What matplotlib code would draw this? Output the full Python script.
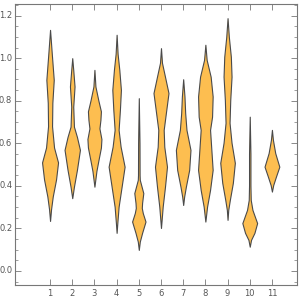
import numpy as np
import matplotlib
matplotlib.use("Agg")
import matplotlib.pyplot as plt

# Violin outlines: levels (y) and half widths (in x units)
# one list per category, from top to bottom of each violin
categories = [1, 2, 3, 4, 5, 6, 7, 8, 9, 10, 11]

levels = [
    [1.133, 1.023, 0.898, 0.79, 0.68, 0.58, 0.51, 0.43, 0.35, 0.29, 0.235],
    [1.0, 0.945, 0.867, 0.772, 0.678, 0.63, 0.569, 0.475, 0.396, 0.342],
    [0.945, 0.867, 0.80, 0.75, 0.71, 0.67, 0.62, 0.58, 0.52, 0.47, 0.396],
    [1.11, 1.02, 0.945, 0.851, 0.757, 0.663, 0.584, 0.49, 0.396, 0.302, 0.225, 0.179],
    [0.812, 0.60, 0.45, 0.428, 0.366, 0.32, 0.296, 0.272, 0.232, 0.179, 0.138, 0.099],
    [1.047, 0.978, 0.913, 0.836, 0.757, 0.663, 0.584, 0.49, 0.396, 0.302, 0.202],
    [0.901, 0.82, 0.742, 0.663, 0.569, 0.475, 0.396, 0.35, 0.31],
    [1.063, 0.992, 0.913, 0.82, 0.725, 0.663, 0.569, 0.475, 0.381, 0.302, 0.232],
    [1.188, 1.10, 1.007, 0.913, 0.804, 0.696, 0.602, 0.508, 0.414, 0.334, 0.287, 0.24],
    [0.725, 0.55, 0.40, 0.334, 0.287, 0.225, 0.179, 0.146, 0.114],
    [0.663, 0.616, 0.554, 0.49, 0.443, 0.404, 0.373],
]

half_px = [
    [0, 1.7, 3.7, 2.3, 2.0, 4.0, 8.0, 6.0, 2.7, 1.0, 0],
    [0, 1.0, 2.3, 1.0, 1.7, 4.7, 7.7, 4.7, 1.7, 0],
    [0, 1.0, 4.0, 6.5, 6.0, 5.0, 7.0, 6.5, 4.0, 2.0, 0],
    [0, 1.0, 2.7, 4.3, 3.3, 2.0, 4.0, 8.0, 5.0, 2.0, 0.7, 0],
    [0, 0.7, 0.8, 1.0, 4.5, 3.3, 3.0, 4.0, 6.7, 3.3, 1.0, 0],
    [0, 1.0, 4.0, 7.5, 5.3, 2.7, 3.3, 6.0, 4.0, 1.7, 0],
    [0, 1.3, 2.0, 3.3, 7.3, 6.0, 2.7, 1.0, 0],
    [0, 1.3, 5.3, 7.3, 6.7, 4.7, 6.0, 7.3, 4.7, 1.7, 0],
    [0, 1.3, 3.3, 4.0, 2.7, 2.0, 4.0, 7.3, 5.3, 2.3, 0.7, 0],
    [0, 0.7, 0.7, 1.0, 2.7, 7.4, 4.7, 1.3, 0],
    [0, 1.0, 3.3, 7.4, 4.0, 1.3, 0],
]

fill_color = "#FDBE50"
edge_color = "#4a4a4a"
frame_color = "#777777"

fig = plt.figure(figsize=(3, 3), dpi=100)
ax = fig.add_axes([0.05, 0.05, 0.94, 0.937])

for x, ys, hw in zip(categories, levels, half_px):
    ys = np.array(ys)
    w = np.array(hw) / 22.2
    ax.fill_betweenx(ys, x - w, x + w, facecolor=fill_color,
                     edgecolor=edge_color, linewidth=0.8)

ax.set_xlim(-0.58, 12.13)
ax.set_ylim(-0.066, 1.255)
ax.set_xticks(categories)
ax.set_xticklabels([str(c) for c in categories])
ax.set_yticks([0.0, 0.2, 0.4, 0.6, 0.8, 1.0, 1.2])
ax.set_yticklabels(["0.0", "0.2", "0.4", "0.6", "0.8", "1.0", "1.2"])
ax.set_yticks(np.arange(-0.05, 1.26, 0.05), minor=True)

ax.tick_params(which="both", direction="in", top=True, right=True,
               colors=frame_color, labelsize=6, labelcolor="#555555")
ax.tick_params(which="major", length=4, width=0.6, pad=3)
ax.tick_params(which="minor", length=2, width=0.5)
ax.tick_params(axis="y", labelleft=False, labelright=False)
for s in ax.spines.values():
    s.set_color(frame_color)
    s.set_linewidth(0.8)

# y labels sit inside the left margin, as in the reference
for v in [0.0, 0.2, 0.4, 0.6, 0.8, 1.0, 1.2]:
    ax.annotate(f"{v:.1f}", xy=(0, v), xycoords=("axes fraction", "data"),
                xytext=(-2, 0), textcoords="offset points",
                ha="right", va="center", fontsize=6, color="#555555")

fig.savefig("out.png", dpi=100)
